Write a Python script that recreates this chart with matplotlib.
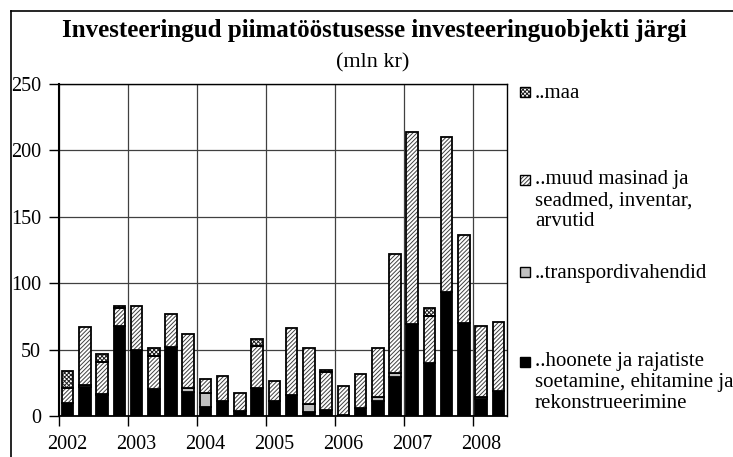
import matplotlib
matplotlib.use("Agg")
import matplotlib.pyplot as plt
from matplotlib.patches import Rectangle
from matplotlib.lines import Line2D
import numpy as np

plt.rcParams["font.family"] = ["Liberation Serif", "DejaVu Serif"]
plt.rcParams["hatch.linewidth"] = 0.7

# quarterly data 2002 Q1 .. 2008 Q2 (mln kr)
years = ["2002", "2003", "2004", "2005", "2006", "2007", "2008"]
hoonete = [10, 22, 16, 68, 50, 20, 52, 18, 7, 11, 3.5, 21, 11, 16,
           3, 4.5, 1, 6, 11, 29.5, 69, 40, 93, 70, 13, 19]
transport = [0, 1.5, 0.5, 0, 0, 0, 0, 3, 10.5, 0, 0, 0, 0, 0,
             6, 0, 0, 0, 3.5, 3, 0, 0, 0, 0, 1.5, 0]
muud = [11, 43.5, 24, 13, 33, 25, 25, 41, 10.5, 19, 14, 32, 15, 50,
        42, 29, 21.5, 25.5, 36.5, 89.5, 144.5, 35.5, 117, 66, 53, 52]
maa = [13, 0, 6, 2, 0, 6, 0, 0, 0, 0, 0, 5, 0, 0,
       0, 1.5, 0, 0, 0, 0, 0, 5.5, 0, 0, 0, 0]

labels = ["..maa", "..muud masinad ja\nseadmed, inventar,\narvutid",
          "..transpordivahendid",
          "..hoonete ja rajatiste\nsoetamine, ehitamine ja\nrekonstrueerimine"]

W, H = 733, 457
fig = plt.figure(figsize=(W / 100, H / 100), dpi=100)
ax = fig.add_axes([59 / W, 1 - 416 / H, (507 - 59) / W, (416 - 84) / H])

x = np.arange(len(hoonete)) + 0.5
bw = 0.67
h = np.array(hoonete, float)
t = np.array(transport, float)
m = np.array(muud, float)
g = np.array(maa, float)

HATCH_M = "////////"
HATCH_G = "xxxxxxxx"

# segments: (values, bottom, face, hatch, hatch colour)
segs = [(h, 0, "black", None, "black"),
        (t, h, "#c0c0c0", None, "black"),
        (m, h + t, "white", HATCH_M, "#404040"),
        (g, h + t + m, "white", HATCH_G, "#202020")]
for vals, bot, fc, hatch, hc in segs:
    mask = vals > 0
    b = np.broadcast_to(bot, vals.shape)[mask]
    if hatch:
        ax.bar(x[mask], vals[mask], bw, bottom=b,
               color=fc, hatch=hatch, edgecolor=hc, linewidth=0, zorder=3)
        ax.bar(x[mask], vals[mask], bw, bottom=b,
               fill=False, edgecolor="black", linewidth=1.3, zorder=4)
    else:
        ax.bar(x[mask], vals[mask], bw, bottom=b,
               color=fc, edgecolor="black", linewidth=1.3, zorder=3)

ax.set_xlim(0, 26)
ax.set_ylim(0, 250)
ax.set_yticks(np.arange(0, 251, 50))
ax.set_xticks(np.arange(0, 25, 4))
ax.set_xticklabels([])
ax.set_xticks(np.arange(len(years)) * 4 + 0.5, minor=True)
ax.set_xticklabels(years, minor=True)
ax.tick_params(axis="x", which="minor", length=0, pad=14, labelsize=14.5)
ax.tick_params(axis="x", which="major", length=7, width=1, color="black")
ax.tick_params(axis="y", length=7, width=1, pad=6, labelsize=14.5)
ax.grid(True, which="major", color="#404040", linewidth=0.9, zorder=1)
ax.set_axisbelow(True)
for s in ax.spines.values():
    s.set_color("black")
    s.set_linewidth(1.0)
ax.spines["left"].set_linewidth(1.5)
ax.spines["bottom"].set_linewidth(1.3)

fig.text(374 / W, 1 - 37 / H, "Investeeringud piimatööstusesse investeeringuobjekti järgi",
         ha="center", va="baseline", fontsize=18, fontweight="bold")
fig.text(373 / W, 1 - 67 / H, "(mln kr)", ha="center", va="baseline", fontsize=16)

# legend drawn by hand (entries spread down the right side)
leg = [(92, HATCH_G, "white", "#202020"), (180, HATCH_M, "white", "#404040"),
       (272, None, "#c0c0c0", "black"), (362, None, "black", "black")]
for (yc, hatch, fc, hc), lab in zip(leg, labels):
    fig.add_artist(Rectangle((520 / W, 1 - (yc + 5) / H), 10 / W, 10 / H,
                             transform=fig.transFigure, facecolor=fc,
                             hatch=hatch, edgecolor=hc, linewidth=0))
    fig.add_artist(Rectangle((520 / W, 1 - (yc + 5) / H), 10 / W, 10 / H,
                             transform=fig.transFigure, fill=False,
                             edgecolor="black", linewidth=1.0))
    if "\n" not in lab:
        fig.text(535 / W, 1 - (yc + 6) / H, lab, ha="left", va="baseline",
                 fontsize=15)
    else:
        fig.text(535 / W, 1 - (yc - 10) / H, lab, ha="left", va="top",
                 fontsize=15, linespacing=1.15)

# outer frame (left and top edges visible)
fig.add_artist(Line2D([11 / W, 11 / W], [0, 1 - 11 / H], color="black", lw=1.2,
                      transform=fig.transFigure))
fig.add_artist(Line2D([11 / W, 1], [1 - 11 / H, 1 - 11 / H], color="black", lw=1.2,
                      transform=fig.transFigure))

fig.savefig("out.png", dpi=100)
